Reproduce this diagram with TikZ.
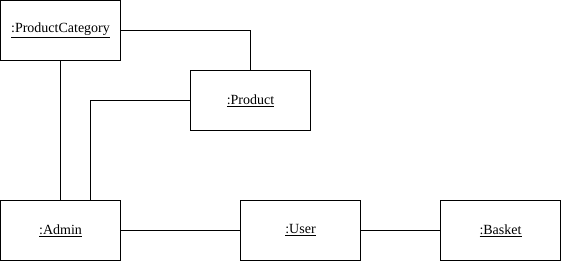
\documentclass[tikz,border=0pt]{standalone}
\usepackage{fontspec}
\setmainfont{Liberation Serif}
\begin{document}
\begin{tikzpicture}[x=1pt,y=-1pt,
  objbox/.style={draw, line width=1pt, minimum width=120pt, minimum height=60pt,
    inner sep=0pt, font=\fontsize{14pt}{16pt}\selectfont},
  link/.style={draw, line width=1pt}]
  \useasboundingbox (0,0) rectangle (561,261);
  % object instances
  \node[objbox] (pc)     at (60.5,30.5)   {\underline{:ProductCategory}};
  \node[objbox] (prod)   at (250.5,100.5) {\underline{:Product}};
  \node[objbox] (admin)  at (60.5,230.5)  {\underline{:Admin}};
  \node[objbox] (user)   at (300.5,230.5) {\underline{:User}};
  \node[objbox] (basket) at (500.5,230.5) {\underline{:Basket}};
  % links
  \path[link] (pc.east) -| (prod.north);
  \path[link] (pc.south) -- (admin.north);
  \path[link] (prod.west) -| ([xshift=30pt]admin.north);
  \path[link] (admin.east) -- (user.west);
  \path[link] (user.east) -- (basket.west);
\end{tikzpicture}
\end{document}
